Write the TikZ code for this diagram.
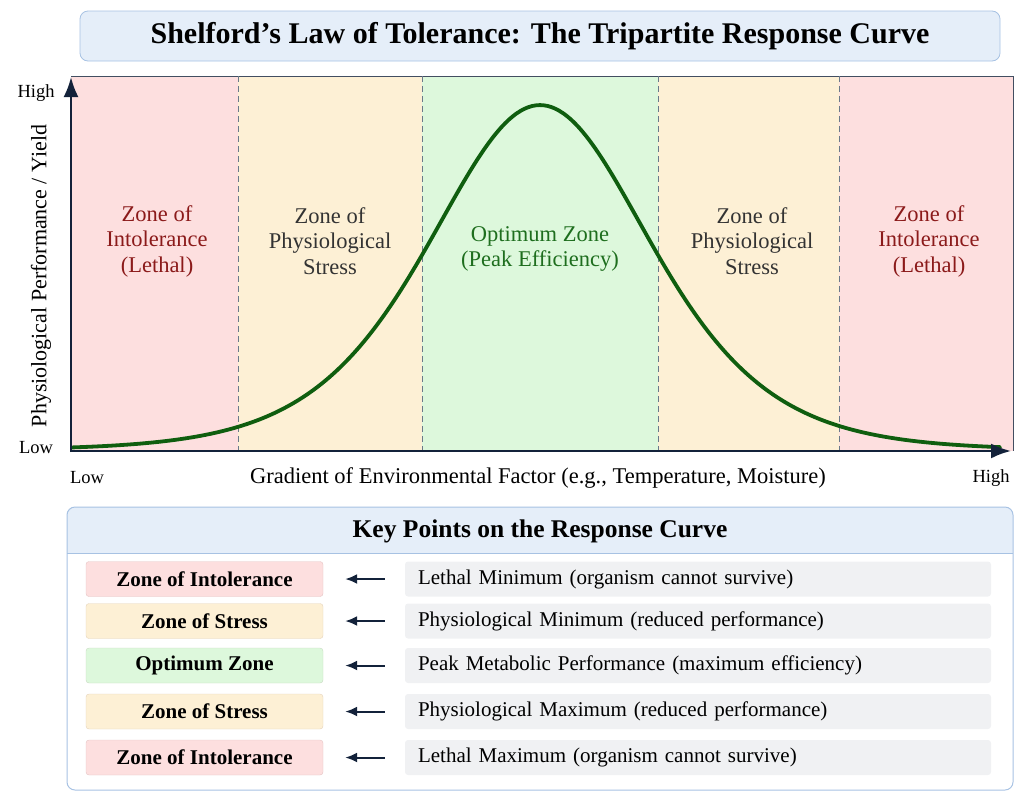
\documentclass[tikz,border=0pt]{standalone}
\usepackage{fontspec}
\setmainfont{Liberation Serif}
\usetikzlibrary{arrows.meta}

\definecolor{lethal}{HTML}{FDDFDF}
\definecolor{stress}{HTML}{FDF0D5}
\definecolor{optim}{HTML}{DDF8DC}
\definecolor{lethaltxt}{HTML}{8B1A1A}
\definecolor{optimtxt}{HTML}{1E6E1E}
\definecolor{curvecol}{HTML}{0F5E0F}
\definecolor{axiscol}{HTML}{13223A}
\definecolor{headfill}{HTML}{E5EEF9}
\definecolor{headline}{HTML}{A7C2E3}
\definecolor{rowgray}{HTML}{F0F1F3}
\definecolor{dashcol}{HTML}{6A7A8A}

\tikzset{
  zonetext/.style={align=center,font=\fontsize{22.5}{25.5}\selectfont},
  axistext/.style={font=\fontsize{18.5}{21}\selectfont},
  keybox/.style={rounded corners=3pt,minimum width=237pt,minimum height=35pt,
    font=\fontsize{21}{24}\selectfont\bfseries},
  descbox/.style={rounded corners=3pt,fill=rowgray,minimum width=586pt,minimum height=35pt,
    text width=560pt,align=left,font=\fontsize{21}{24}\selectfont},
  keyarrow/.style={{Latex[length=12pt,width=10pt]}-,line width=2pt,axiscol,
    shorten >=20pt,shorten <=22pt},
  boundary/.style={dash pattern=on 6pt off 4pt,dashcol,line width=1pt}
}

\begin{document}
\begin{tikzpicture}[x=1pt,y=-1pt]
    \useasboundingbox (0,0) rectangle (1024,804);
    % title
    \node[draw=headline,fill=headfill,rounded corners=8pt,line width=0.8pt,
      minimum width=920pt,minimum height=50pt,font=\fontsize{30}{33}\selectfont\bfseries]
      (title) at (540,36) {Shelford’s Law of Tolerance: The Tripartite Response Curve};
    % zones
    \fill[lethal] (71,76) rectangle (238,451);
    \fill[stress] (238,76) rectangle (422,451);
    \fill[optim] (422,76) rectangle (658,451);
    \fill[stress] (658,76) rectangle (839,451);
    \fill[lethal] (839,76) rectangle (1013,451);
    \draw[axiscol!80,line width=0.8pt] (71,76) -- (1013,76) -- (1013,451);
    \foreach \bx in {238,422,658,839}
      \draw[boundary] (\bx,76) -- (\bx,451);
    % zone labels
    \node[zonetext,text=lethaltxt] (lowlethal) at (157,241) {Zone of\\Intolerance\\(Lethal)};
    \node[zonetext,text=black!80] (lowstress) at (330,241) {Zone of\\Physiological\\Stress};
    \node[zonetext,text=optimtxt] (optimum) at (540,249) {Optimum Zone\\(Peak Efficiency)};
    \node[zonetext,text=black!80] (highstress) at (752,241) {Zone of\\Physiological\\Stress};
    \node[zonetext,text=lethaltxt] (highlethal) at (929,241) {Zone of\\Intolerance\\(Lethal)};
    % response curve
    \draw[curvecol,line width=3.8pt,line cap=round,domain=72:1000,samples=120,smooth]
      plot (\x,{450-345/(cosh((\x-540)/149))^2});
    % axes
    \draw[axiscol,line width=2.4pt,-{Latex[length=20pt,width=15pt]}] (71,452) -- (71,77);
    \draw[axiscol,line width=2.4pt,-{Latex[length=20pt,width=15pt]}] (70,451) -- (1011,451);
    \node[axistext] (yhigh) at (36,93) {High};
    \node[axistext] (ylow) at (36,448) {Low};
    \node[axistext] (xlow) at (87,478) {Low};
    \node[axistext] (xhigh) at (991,478) {High};
    \node[font=\fontsize{22.5}{24}\selectfont] (xlabel) at (538,478)
      {Gradient of Environmental Factor (e.g., Temperature, Moisture)};
    \node[font=\fontsize{22}{24}\selectfont,rotate=90] (ylabel) at (41,276)
      {Physiological Performance / Yield};
    % key panel
    \begin{scope}
      \clip[rounded corners=8pt] (67,507) rectangle (1013,790);
      \fill[headfill] (67,507) rectangle (1013,553);
      \draw[headline,line width=0.8pt] (67,553) -- (1013,553);
    \end{scope}
    \draw[headline,line width=1pt,rounded corners=8pt] (67,507) rectangle (1013,790);
    \node[font=\fontsize{25.5}{28}\selectfont\bfseries] (keytitle) at (540,531)
      {Key Points on the Response Curve};
    \foreach \yy/\zfill/\zname/\desc [count=\i] in {
        579/lethal/Zone of Intolerance/Lethal Minimum (organism cannot survive),
        621/stress/Zone of Stress/Physiological Minimum (reduced performance),
        665.5/optim/Optimum Zone/Peak Metabolic Performance (maximum efficiency),
        711.5/stress/Zone of Stress/Physiological Maximum (reduced performance),
        757.5/lethal/Zone of Intolerance/Lethal Maximum (organism cannot survive)} {
      \node[keybox,fill=\zfill,draw=\zfill!85!red!60!black!25!\zfill] (zone\i) at (204.5,\yy) {\zname};
      \node[descbox] (desc\i) at (698,\yy) {\desc};
      \draw[keyarrow] (zone\i.east) -- (desc\i.west);
    }
\end{tikzpicture}
\end{document}
